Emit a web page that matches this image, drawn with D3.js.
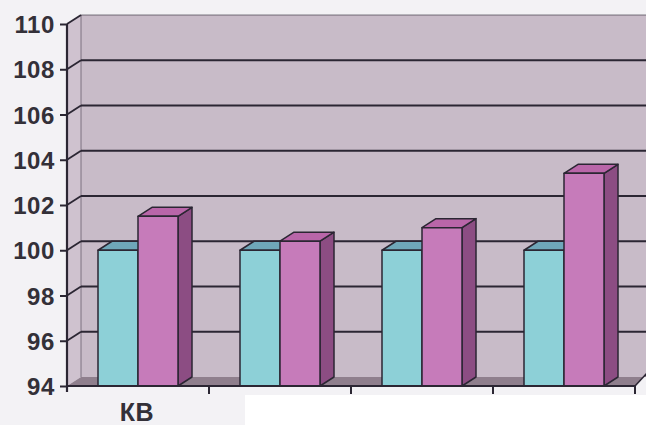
<!DOCTYPE html>
<html>
<head>
<meta charset="utf-8">
<script src="https://cdn.jsdelivr.net/npm/d3@7"></script>
<style>
  html, body { margin: 0; padding: 0; background: #f3f2f5; }
  svg { display: block; }
</style>
</head>
<body>
<script>
// Category labels (only the first group carries a label)
const categories = ["КВ", "", "", ""];
const seriesNames = ["base", "index"];
// Series values per category
const baseValues  = [100, 100, 100, 100];
const indexValues = [101.5, 100.4, 101.0, 103.4];
// Y axis tick values
const yTicks = [94, 96, 98, 100, 102, 104, 106, 108, 110];

const W = 646, H = 425;
const DX = 14, DY = -9;          // depth offset of the 3D box
const plotLeft = 67, plotRight = 635, plotTop = 24, plotBottom = 386;

const svg = d3.select("body").append("svg").attr("width", W).attr("height", H);

// Page background and the plain white lower panel
svg.append("rect").attr("width", W).attr("height", H).attr("fill", "#f3f2f5");
svg.append("rect").attr("x", 245).attr("y", 395).attr("width", W - 245).attr("height", H - 395).attr("fill", "#ffffff");

const y = d3.scaleLinear().domain([94, 110]).range([plotBottom, plotTop]);
const x0 = d3.scaleBand().domain(d3.range(categories.length)).range([plotLeft, plotRight]).padding(0);
const x1 = d3.scaleBand().domain(seriesNames).range([31, 111]).padding(0);

const poly = pts => pts.map(p => p.join(",")).join(" ");
const ink = "#2b2633";

// Back wall
svg.append("polygon")
  .attr("points", poly([[plotLeft + DX, plotTop + DY], [W + 2, plotTop + DY], [W + 2, plotBottom + DY], [plotLeft + DX, plotBottom + DY]]))
  .attr("fill", "#c8bbc8");
// Side wall
svg.append("polygon")
  .attr("points", poly([[plotLeft, plotTop], [plotLeft + DX, plotTop + DY], [plotLeft + DX, plotBottom + DY], [plotLeft, plotBottom]]))
  .attr("fill", "#cfc2cf");
// Floor
svg.append("polygon")
  .attr("points", poly([[plotLeft, plotBottom], [plotLeft + DX, plotBottom + DY], [W + 2, plotBottom + DY], [W + 2, plotBottom - 14], [plotRight, plotBottom]]))
  .attr("fill", "#8f7f8d");

// Gridlines on wall and side wall
const grid = svg.append("g").attr("stroke", ink).attr("fill", "none");
yTicks.filter(v => v > 94).forEach(v => {
  const yy = y(v);
  grid.append("line").attr("x1", plotLeft + DX).attr("x2", W + 2)
    .attr("y1", yy + DY).attr("y2", yy + DY)
    .attr("stroke-width", v === 110 ? 1 : 2).attr("stroke-opacity", v === 110 ? 0.6 : 1);
  grid.append("line").attr("x1", plotLeft).attr("x2", plotLeft + DX)
    .attr("y1", yy).attr("y2", yy + DY).attr("stroke-width", 1.8);
});
// Wall corner edge
grid.append("line").attr("x1", plotLeft + DX).attr("x2", plotLeft + DX)
  .attr("y1", plotTop + DY).attr("y2", plotBottom + DY).attr("stroke-width", 1).attr("stroke-opacity", 0.5);

// Bars drawn as 3D boxes
const styles = {
  base:  { front: "#8dd0d7", top: "#6fa7b9", side: "#5f98a8" },
  index: { front: "#c67bba", top: "#b966a9", side: "#8c4d83" }
};
const bars = svg.append("g");
categories.forEach((c, i) => {
  [["base", baseValues[i]], ["index", indexValues[i]]].forEach(([s, v]) => {
    const xa = x0(i) + x1(s), xb = xa + x1.bandwidth();
    const yt = y(v), yb = y(94);
    const st = styles[s];
    const g = bars.append("g").attr("stroke", ink).attr("stroke-width", 1.5).attr("stroke-linejoin", "round");
    g.append("polygon").attr("points", poly([[xb, yt], [xb + DX, yt + DY], [xb + DX, yb + DY], [xb, yb]])).attr("fill", st.side);
    g.append("polygon").attr("points", poly([[xa, yt], [xa + DX, yt + DY], [xb + DX, yt + DY], [xb, yt]])).attr("fill", st.top);
    g.append("rect").attr("x", xa).attr("y", yt).attr("width", xb - xa).attr("height", yb - yt).attr("fill", st.front);
  });
});

// Front floor edge and category ticks
const axis = svg.append("g").attr("stroke", ink).attr("stroke-width", 2).attr("fill", "none");
axis.append("line").attr("x1", plotLeft).attr("x2", plotRight).attr("y1", plotBottom).attr("y2", plotBottom);
axis.append("line").attr("x1", plotRight).attr("x2", W + 2).attr("y1", plotBottom).attr("y2", plotBottom - 14).attr("stroke-width", 1.5);
d3.range(1, categories.length + 1).forEach(i => {
  const xx = i < categories.length ? x0(i) : plotRight;
  axis.append("line").attr("x1", xx).attr("x2", xx).attr("y1", plotBottom).attr("y2", plotBottom + 8);
});

// Y axis with ticks and labels
const yAxis = svg.append("g").attr("transform", `translate(${plotLeft},0)`)
  .call(d3.axisLeft(y).tickValues(yTicks).tickSize(7).tickPadding(5).tickFormat(d3.format("d")));
yAxis.select(".domain").attr("stroke", ink).attr("stroke-width", 2.2).attr("d", `M0,${plotTop}V${plotBottom + 6}`);
yAxis.selectAll(".tick line").attr("stroke", ink).attr("stroke-width", 2);
yAxis.selectAll(".tick text")
  .attr("fill", "#333038")
  .attr("dy", "0.36em")
  .style("font-family", "'Liberation Sans', Arial, sans-serif")
  .style("font-weight", "bold")
  .style("font-size", "24px")
  .style("letter-spacing", "0.6px");

// Category labels
svg.append("g").selectAll("text").data(categories).join("text")
  .attr("x", (d, i) => x0(i) + x0.bandwidth() / 2 - 1)
  .attr("y", 421)
  .attr("text-anchor", "middle")
  .attr("fill", "#333038")
  .style("font-family", "'Liberation Sans', Arial, sans-serif")
  .style("font-weight", "bold")
  .style("font-size", "25px")
  .style("letter-spacing", "0.5px")
  .text(d => d);
</script>
</body>
</html>
